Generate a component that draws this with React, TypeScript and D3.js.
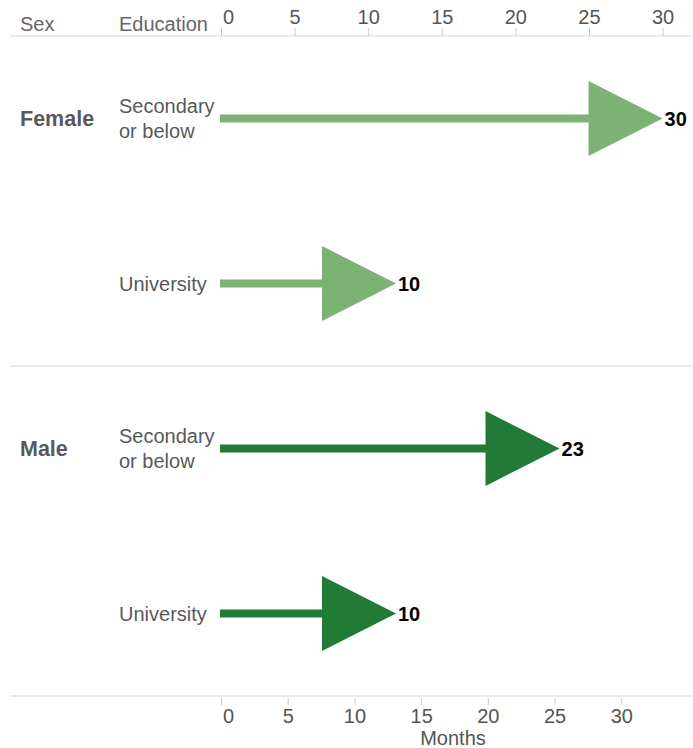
import React, { useEffect, useRef } from "react";
import * as d3 from "d3";

const sexes = ["Female", "Male"];
const educationLabels = [["Secondary", "or below"], ["University"]];
const femaleValues = [30, 10];
const maleValues = [23, 10];
const seriesColors = ["#7cb273", "#227a37"];
const topTicks = [0, 5, 10, 15, 20, 25, 30];
const bottomTicks = [0, 5, 10, 15, 20, 25, 30];
const axisTitle = "Months";

const W = 693;
const H = 748;
const FONT = "'Liberation Sans', Arial, Helvetica, sans-serif";

export default function App() {
  const ref = useRef<SVGSVGElement>(null);

  useEffect(() => {
    const svg = d3.select(ref.current);
    svg.selectAll("*").remove();

    const x0 = 221;
    const xTop = d3.scaleLinear().domain([0, 32]).range([x0, 692]);
    const xBottom = d3.scaleLinear().domain([0, 35.3]).range([x0, 692]);

    const headerY = 36;
    const bottomY = 696;

    const rows: { sex: string; edu: string[]; value: number; color: string; first: boolean }[] = [];
    sexes.forEach((s, si) => {
      const vals = si === 0 ? femaleValues : maleValues;
      educationLabels.forEach((e, ei) => {
        rows.push({ sex: s, edu: e, value: vals[ei], color: seriesColors[si], first: ei === 0 });
      });
    });

    const y = d3
      .scaleBand<number>()
      .domain(rows.map((_, i) => i))
      .range([headerY, bottomY])
      .paddingInner(0)
      .paddingOuter(0);

    const g = svg.append("g");

    // separators
    const sepYs = [headerY, headerY + y.step() * 2, bottomY];
    g.selectAll("line.sep")
      .data(sepYs)
      .enter()
      .append("line")
      .attr("x1", 10)
      .attr("x2", 692)
      .attr("y1", (d) => d)
      .attr("y2", (d) => d)
      .attr("stroke", "#d6d6d6")
      .attr("stroke-width", 1.2);

    // header
    g.append("text")
      .attr("x", 20)
      .attr("y", 31)
      .text("Sex")
      .attr("fill", "#666")
      .style("font", `20px ${FONT}`);
    g.append("text")
      .attr("x", 119)
      .attr("y", 31)
      .text("Education")
      .attr("fill", "#666")
      .style("font", `20px ${FONT}`);

    // top axis
    const topAxis = d3
      .axisTop(xTop)
      .tickValues(topTicks)
      .tickSize(8)
      .tickPadding(4)
      .tickFormat(d3.format("d") as any);
    const ta = g.append("g").attr("transform", `translate(0,${headerY})`).call(topAxis);
    ta.select(".domain").remove();
    ta.selectAll(".tick line").attr("stroke", "#cccccc");
    ta.selectAll(".tick text")
      .attr("fill", "#555")
      .style("font", `20px ${FONT}`)
      .attr("dx", (d: any) => (d === 0 ? 7 : 0));

    // bottom axis
    const bottomAxis = d3
      .axisBottom(xBottom)
      .tickValues(bottomTicks)
      .tickSize(7)
      .tickPadding(6)
      .tickFormat(d3.format("d") as any);
    const ba = g.append("g").attr("transform", `translate(0,${bottomY + 2})`).call(bottomAxis);
    ba.select(".domain").remove();
    ba.selectAll(".tick line").attr("stroke", "#cccccc");
    ba.selectAll(".tick text")
      .attr("fill", "#555")
      .style("font", `20px ${FONT}`)
      .attr("dy", "0.6em")
      .attr("dx", (d: any) => (d === 0 ? 7 : 0));
    g.append("text")
      .attr("x", 453)
      .attr("y", 745)
      .attr("text-anchor", "middle")
      .attr("fill", "#555")
      .style("font", `20px ${FONT}`)
      .text(axisTitle);

    const minLen = 175;
    const headLen = 74;
    const headH = 75;
    const shaft = 8;

    rows.forEach((r, i) => {
      const cy = (y(i) as number) + y.bandwidth() / 2;
      if (r.first) {
        g.append("text")
          .attr("x", 20)
          .attr("y", cy)
          .attr("dy", "0.35em")
          .attr("fill", "#595959")
          .style("font", `bold 21.5px ${FONT}`)
          .text(r.sex);
      }
      const n = r.edu.length;
      r.edu.forEach((line, li) => {
        g.append("text")
          .attr("x", 119)
          .attr("y", cy + (li - (n - 1) / 2) * 25)
          .attr("dy", "0.35em")
          .attr("fill", "#595959")
          .style("font", `20px ${FONT}`)
          .text(line);
      });

      const tip = Math.max(xTop(r.value), x0 + minLen);
      const base = tip - headLen;
      g.append("rect")
        .attr("x", x0 - 1)
        .attr("y", cy - shaft / 2)
        .attr("width", base - x0 + 2)
        .attr("height", shaft)
        .attr("fill", r.color);
      g.append("path")
        .attr(
          "d",
          d3.line()([
            [base, cy - headH / 2],
            [tip, cy],
            [base, cy + headH / 2],
          ]) + "Z"
        )
        .attr("fill", r.color);
      g.append("text")
        .attr("x", tip + 2)
        .attr("y", cy)
        .attr("dy", "0.35em")
        .attr("fill", "#000")
        .style("font", `bold 20px ${FONT}`)
        .text(r.value);
    });
  }, []);

  return (
    <svg
      ref={ref}
      width={W}
      height={H}
      style={{ position: "absolute", left: 0, top: 0, background: "#fff" }}
    />
  );
}
